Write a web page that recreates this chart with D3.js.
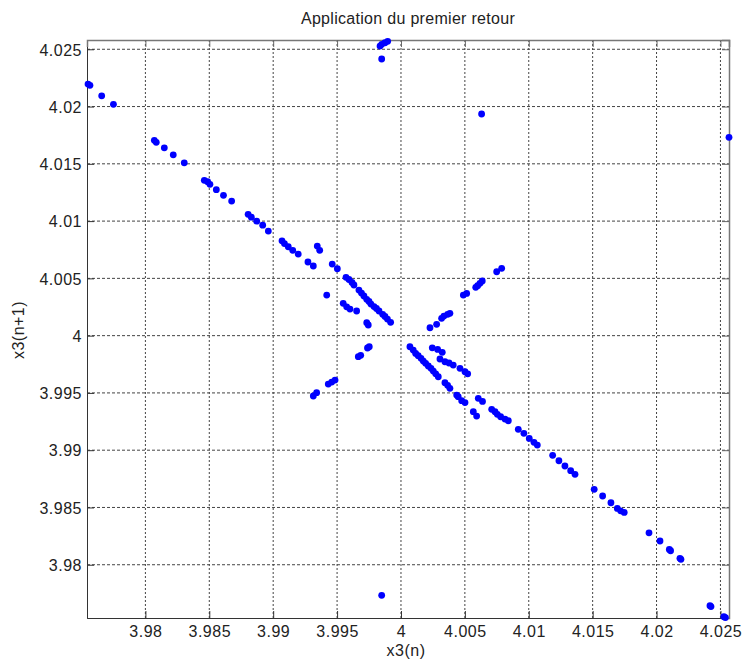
<!DOCTYPE html>
<html>
<head>
<meta charset="utf-8">
<script src="https://cdn.jsdelivr.net/npm/d3@7"></script>
<style>
  body { margin: 0; background: #fff; }
  text { font-family: "Liberation Sans", Arial, sans-serif; fill: #222; }
</style>
</head>
<body>
<svg class="retour" width="743" height="664"></svg>
<script>
/* Return map points, x3(n) and x3(n+1) */
var x3n = [
  3.97551, 3.97566, 3.97658, 3.97750, 3.98070, 3.98085, 3.98148, 3.98218, 3.98304, 3.98461,
  3.98487, 3.98505, 3.98555, 3.98611, 3.98675, 3.98804, 3.98829, 3.98871, 3.98918, 3.98962,
  3.99069, 3.99088, 3.99118, 3.99153, 3.99196, 3.99272, 3.99314, 3.99345, 3.99364, 3.99462,
  3.99502, 3.99419, 3.99570, 3.99593, 3.99617, 3.99632, 3.99671, 3.99691, 3.99710, 3.99732,
  3.99750, 3.99765, 3.99789, 3.99808, 3.99828, 3.99857, 3.99875, 3.99894, 3.99919, 3.99548,
  3.99575, 3.99601, 3.99653, 3.99732, 3.99744, 3.99752, 3.99738, 3.99666, 3.99685, 3.99484,
  3.99458, 3.99431, 3.99340, 3.99314, 4.00227, 4.00279, 4.00318, 4.00336, 4.00365, 4.00383,
  4.00488, 4.00514, 4.00585, 4.00600, 4.00618, 4.00636, 4.00749, 4.00788, 4.00070, 4.00096,
  4.00115, 4.00135, 4.00157, 4.00175, 4.00193, 4.00214, 4.00235, 4.00253, 4.00272, 4.00292,
  4.00344, 4.00365, 4.00383, 4.00436, 4.00448, 4.00475, 4.00501, 4.00245, 4.00287, 4.00323,
  4.00305, 4.00344, 4.00376, 4.00409, 4.00462, 4.00501, 4.00522, 4.00605, 4.00638, 4.00566,
  4.00592, 4.00710, 4.00736, 4.00754, 4.00780, 4.00814, 4.00840, 4.00918, 4.00962, 4.01004,
  4.01041, 4.01067, 4.01187, 4.01236, 4.01283, 4.01328, 4.01362, 4.01512, 4.01578, 4.01643,
  4.01693, 4.01719, 4.01747, 4.01941, 4.02027, 4.02100, 4.02110, 4.02183, 4.02191, 4.02418,
  4.02426, 4.02527, 4.02539, 3.99836, 3.99849, 3.99875, 3.99896, 3.99849, 4.00631, 4.02567,
  3.99849
];
var x3n1 = [
  4.02196, 4.02185, 4.02094, 4.02019, 4.01705, 4.01688, 4.01640, 4.01579, 4.01509, 4.01356,
  4.01344, 4.01321, 4.01274, 4.01225, 4.01175, 4.01059, 4.01034, 4.00999, 4.00964, 4.00913,
  4.00828, 4.00804, 4.00776, 4.00745, 4.00712, 4.00643, 4.00608, 4.00782, 4.00745, 4.00625,
  4.00584, 4.00354, 4.00509, 4.00490, 4.00464, 4.00442, 4.00398, 4.00372, 4.00346, 4.00317,
  4.00298, 4.00276, 4.00254, 4.00237, 4.00215, 4.00186, 4.00167, 4.00145, 4.00116, 4.00282,
  4.00252, 4.00232, 4.00215, 4.00113, 4.00093, 3.99903, 3.99892, 3.99816, 3.99828, 3.99612,
  3.99595, 3.99577, 3.99502, 3.99473, 4.00069, 4.00099, 4.00151, 4.00171, 4.00186, 4.00195,
  4.00354, 4.00369, 4.00422, 4.00436, 4.00457, 4.00477, 4.00558, 4.00588, 3.99903, 3.99874,
  3.99845, 3.99825, 3.99802, 3.99778, 3.99758, 3.99735, 3.99715, 3.99691, 3.99667, 3.99641,
  3.99589, 3.99566, 3.99540, 3.99481, 3.99467, 3.99432, 3.99416, 3.99894, 3.99880, 3.99854,
  3.99796, 3.99772, 3.99761, 3.99743, 3.99715, 3.99685, 3.99667, 3.99453, 3.99426, 3.99336,
  3.99298, 3.99357, 3.99336, 3.99313, 3.99292, 3.99272, 3.99257, 3.99182, 3.99147, 3.99103,
  3.99069, 3.99045, 3.98955, 3.98908, 3.98862, 3.98821, 3.98789, 3.98658, 3.98600, 3.98541,
  3.98492, 3.98471, 3.98457, 3.98279, 3.98207, 3.98134, 3.98122, 3.98056, 3.98047, 3.97642,
  3.97635, 3.97546, 3.97539, 4.02528, 4.02543, 4.02557, 4.02569, 4.02415, 4.01935, 4.01731,
  3.97733
];
var xTicks = [3.98, 3.985, 3.99, 3.995, 4, 4.005, 4.01, 4.015, 4.02, 4.025];
var yTicks = [3.98, 3.985, 3.99, 3.995, 4, 4.005, 4.01, 4.015, 4.02, 4.025];
var xDomain = [3.97543, 4.02567];
var yDomain = [3.97535, 4.02581];

var svg = d3.select(".retour"),
    margin = {top: 40, right: 14, bottom: 46, left: 87},
    width = +svg.attr("width") - margin.left - margin.right,
    height = +svg.attr("height") - margin.top - margin.bottom;

var x = d3.scaleLinear().domain(xDomain).range([0, width]),
    y = d3.scaleLinear().domain(yDomain).range([height, 0]);

var fmt = function(d) { return d3.format("")(+d.toFixed(3)); };

var g = svg.append("g")
    .attr("transform", "translate(" + margin.left + "," + margin.top + ")");

/* dotted grid */
g.append("g").selectAll("line").data(xTicks).enter().append("line")
    .attr("x1", function(d) { return x(d); }).attr("x2", function(d) { return x(d); })
    .attr("y1", 0).attr("y2", height)
    .attr("stroke", "#444").attr("stroke-dasharray", "2,2");
g.append("g").selectAll("line").data(yTicks).enter().append("line")
    .attr("y1", function(d) { return y(d); }).attr("y2", function(d) { return y(d); })
    .attr("x1", 0).attr("x2", width)
    .attr("stroke", "#444").attr("stroke-dasharray", "3,2");

/* axes with inside ticks on all four sides */
var axBottom = g.append("g").attr("transform", "translate(0," + height + ")")
    .call(d3.axisBottom(x).tickValues(xTicks).tickSize(-7).tickPadding(8).tickFormat(fmt));
var axLeft = g.append("g")
    .call(d3.axisLeft(y).tickValues(yTicks).tickSize(-7).tickPadding(5).tickFormat(fmt));
var axTop = g.append("g")
    .call(d3.axisTop(x).tickValues(xTicks).tickSize(-7).tickFormat(""));
var axRight = g.append("g").attr("transform", "translate(" + width + ",0)")
    .call(d3.axisRight(y).tickValues(yTicks).tickSize(-7).tickFormat(""));

[axBottom, axLeft].forEach(function(a) {
  a.select(".domain").attr("stroke", "#333");
  a.selectAll(".tick line").attr("stroke", "#333");
  a.selectAll("text").attr("font-size", 16).attr("fill", "#222")
    .style("letter-spacing", "0.5px").attr("font-family", "Liberation Sans, Arial, sans-serif");
});
[axTop, axRight].forEach(function(a) {
  a.select(".domain").attr("stroke", "#777").attr("stroke-width", 1.5);
  a.selectAll(".tick line").attr("stroke", "#666");
});
axLeft.selectAll("text").attr("dy", "0.36em");
axBottom.selectAll("text").attr("dy", "0.71em");

/* points */
var pts = x3n.map(function(d, i) { return {xn: d, xn1: x3n1[i]}; });
g.append("g").selectAll("circle").data(pts).enter().append("circle")
    .attr("cx", function(d) { return x(d.xn); })
    .attr("cy", function(d) { return y(d.xn1); })
    .attr("r", 3.4)
    .attr("fill", "#0000ff");

/* labels */
svg.append("text").attr("x", 408).attr("y", 24).attr("text-anchor", "middle")
    .attr("font-size", 16).style("letter-spacing", "0.3px")
    .text("Application du premier retour");
svg.append("text").attr("x", 406).attr("y", 656).attr("text-anchor", "middle")
    .attr("font-size", 16).style("letter-spacing", "0.5px")
    .text("x3(n)");
svg.append("text").attr("transform", "translate(24,330) rotate(-90)").attr("text-anchor", "middle")
    .attr("font-size", 16).style("letter-spacing", "0.5px")
    .text("x3(n+1)");
</script>
</body>
</html>
